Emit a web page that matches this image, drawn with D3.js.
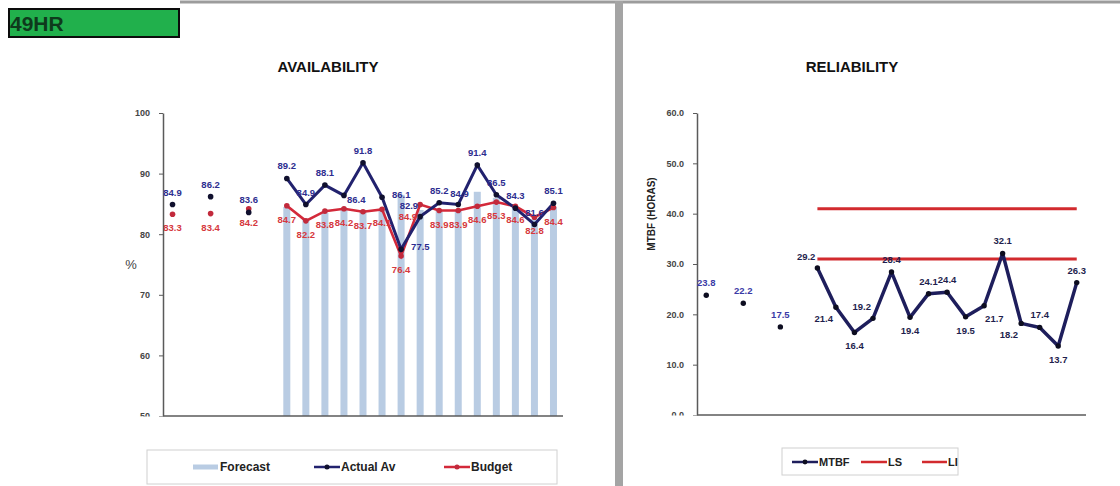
<!DOCTYPE html>
<html><head><meta charset="utf-8">
<script src="https://cdn.jsdelivr.net/npm/d3@7"></script>
<style>
html,body{margin:0;padding:0;background:#fff;}
svg{display:block;font-family:"Liberation Sans",Arial,sans-serif;}
</style></head><body>
<svg id="c" width="1120" height="486"></svg>
<script>
// Period slots: three yearly figures (each followed by a spacer slot), then 15 monthly figures
const periods = ["Y1","s1","Y2","s2","Y3","s3",
  "M01","M02","M03","M04","M05","M06","M07","M08","M09","M10","M11","M12","M13","M14","M15"];

// Availability (%)
const forecast = [null,null,null,null,null,null,
  84.5,82.5,83.5,84.0,84.0,84.0,86.5,84.0,84.0,84.0,87.0,86.0,84.5,82.5,84.5];
const actualAv = [84.9,null,86.2,null,83.6,null,
  89.2,84.9,88.1,86.4,91.8,86.1,77.5,82.9,85.2,84.9,91.4,86.5,84.3,81.6,85.1];
const budget = [83.3,null,83.4,null,84.2,null,
  84.7,82.2,83.8,84.2,83.7,84.1,76.4,84.9,83.9,83.9,84.6,85.3,84.6,82.8,84.4];
const availTicks = [50,60,70,80,90,100];

// Reliability: MTBF (hours) with upper (LS) and lower (LI) limits
const mtbf = [23.8,null,22.2,null,17.5,null,
  29.2,21.4,16.4,19.2,28.4,19.4,24.1,24.4,19.5,21.7,32.1,18.2,17.4,13.7,26.3];
const ls = [null,null,null,null,null,null,
  41,41,41,41,41,41,41,41,41,41,41,41,41,41,41];
const li = [null,null,null,null,null,null,
  31,31,31,31,31,31,31,31,31,31,31,31,31,31,31];
const mtbfTicks = [0,10,20,30,40,50,60];

// Where each data label sits relative to its point
const actualSide = ["t","","t","","t","","t","t","t","r","t","rr","rr","tl","t","tr","t","t","t","t","t"];
const budgetSide = ["b","","b","","b","","b","b","b","b","b","b","b","bl","b","b","b","b","b","b","b"];
const mtbfSide   = ["t","","t","","t","","tl","bl","b","tl","t","b","t","t","b","br","t","bl","t","b","t"];

const labelOffset = {
  t:  {dx:0,   dy:-9, a:"middle"},
  b:  {dx:0,   dy:17, a:"middle"},
  r:  {dx:3,   dy:8,  a:"start"},
  rr: {dx:10,  dy:1,  a:"start"},
  tl: {dx:-2,  dy:-8, a:"end"},
  tr: {dx:-8,  dy:-8, a:"start"},
  bl: {dx:-3,  dy:15, a:"end"},
  br: {dx:1,   dy:16, a:"start"}
};

const svg = d3.select("#c");

// page frame: top rule and the divider between the two charts
svg.append("line").attr("x1",180).attr("x2",1120).attr("y1",2).attr("y2",2)
  .attr("stroke","#9c9c9c").attr("stroke-width",3);
svg.append("rect").attr("x",615).attr("y",1).attr("width",8).attr("height",485).attr("fill","#a4a4a4");

// equipment tag
svg.append("rect").attr("x",9).attr("y",9).attr("width",170).attr("height",28)
  .attr("fill","#21b04c").attr("stroke","#0c0c0c").attr("stroke-width",2);
svg.append("text").attr("x",10).attr("y",31).text("49HR")
  .attr("font-size",21).attr("font-weight","bold").attr("fill","#0e3a1c");

function centerOf(scale, i){ return scale(periods[i]) + scale.bandwidth()/2; }

function drawLabels(g, values, sides, xs, ys, color, fmt){
  g.selectAll(null).data(values.map((v,i)=>({v,i})).filter(d=>d.v!=null))
    .join("text")
    .attr("x", d=>centerOf(xs,d.i) + labelOffset[sides[d.i]].dx)
    .attr("y", d=>ys(d.v) + labelOffset[sides[d.i]].dy)
    .attr("text-anchor", d=>labelOffset[sides[d.i]].a)
    .attr("font-size",9.5).attr("font-weight","bold")
    .attr("fill", typeof color === "function" ? color : ()=>color)
    .text(d=>fmt(d.v));
}

function styleAxis(g){
  g.select(".domain").attr("stroke","#5a5a5a").attr("stroke-width",1.5);
  g.selectAll(".tick line").attr("stroke","#5a5a5a").attr("stroke-width",1);
  g.selectAll(".tick text").attr("fill","#454545").attr("font-size",9).attr("font-weight","bold")
    .attr("font-family","Liberation Sans, Arial, sans-serif");
}

/* ---------------- AVAILABILITY ---------------- */
{
  const xA = d3.scaleBand().domain(periods).range([163,563]);
  const yA = d3.scaleLinear().domain([50,100]).range([416,113]);
  const g = svg.append("g");

  g.append("text").attr("x",328).attr("y",72).attr("text-anchor","middle")
    .attr("font-size",15).attr("font-weight","bold").attr("fill","#111").text("AVAILABILITY");

  // forecast bars
  g.selectAll(null).data(forecast.map((v,i)=>({v,i})).filter(d=>d.v!=null))
    .join("rect")
    .attr("x", d=>centerOf(xA,d.i)-3.5).attr("width",7)
    .attr("y", d=>yA(d.v)).attr("height", d=>yA(50)-yA(d.v))
    .attr("fill","#b9cce3");

  // axes (bottom tick label is cut off at the plot floor); clip box is in the axis group's local space
  svg.append("clipPath").attr("id","clipA").append("rect").attr("x",-70).attr("y",100).attr("width",75).attr("height",316.5);
  const ay = g.append("g").attr("transform","translate(163,0)")
    .call(d3.axisLeft(yA).tickValues(availTicks).tickSize(4).tickSizeOuter(0).tickPadding(9).tickFormat(d3.format("d")));
  styleAxis(ay);
  ay.attr("clip-path","url(#clipA)");
  g.append("line").attr("x1",163).attr("x2",563).attr("y1",yA(50)).attr("y2",yA(50))
    .attr("stroke","#5a5a5a").attr("stroke-width",1.5);

  g.append("text").attr("x",131).attr("y",269).attr("text-anchor","middle")
    .attr("font-size",13).attr("fill","#444").text("%");

  const line = d3.line().defined(d=>d.v!=null).x(d=>centerOf(xA,d.i)).y(d=>yA(d.v));
  const bud = budget.map((v,i)=>({v,i}));
  const act = actualAv.map((v,i)=>({v,i}));

  g.append("path").datum(bud).attr("d",line).attr("fill","none")
    .attr("stroke","#d3293a").attr("stroke-width",2.6);
  g.append("path").datum(act).attr("d",line).attr("fill","none")
    .attr("stroke","#22226e").attr("stroke-width",3);

  g.selectAll(null).data(bud.filter(d=>d.v!=null)).join("circle")
    .attr("cx",d=>centerOf(xA,d.i)).attr("cy",d=>yA(d.v)).attr("r",2.8).attr("fill","#c22a3c");
  g.selectAll(null).data(act.filter(d=>d.v!=null)).join("circle")
    .attr("cx",d=>centerOf(xA,d.i)).attr("cy",d=>yA(d.v)).attr("r",2.8).attr("fill","#10102e");

  drawLabels(g, actualAv, actualSide, xA, yA, "#2d2d8f", d3.format(".1f"));
  drawLabels(g, budget, budgetSide, xA, yA, "#d6383d", d3.format(".1f"));

  // legend
  const lg = g.append("g");
  lg.append("rect").attr("x",147).attr("y",450).attr("width",410).attr("height",34)
    .attr("fill","#fff").attr("stroke","#d0d0d0").attr("stroke-width",1);
  const ly = 467;
  lg.append("line").attr("x1",193).attr("x2",218).attr("y1",ly).attr("y2",ly).attr("stroke","#b9cce3").attr("stroke-width",5);
  lg.append("text").attr("x",220).attr("y",ly+4).text("Forecast");
  lg.append("line").attr("x1",314).attr("x2",340).attr("y1",ly).attr("y2",ly).attr("stroke","#22226e").attr("stroke-width",2.5);
  lg.append("circle").attr("cx",327).attr("cy",ly).attr("r",2.5).attr("fill","#10102e");
  lg.append("text").attr("x",341).attr("y",ly+4).text("Actual Av");
  lg.append("line").attr("x1",444).attr("x2",470).attr("y1",ly).attr("y2",ly).attr("stroke","#d3293a").attr("stroke-width",2.5);
  lg.append("circle").attr("cx",457).attr("cy",ly).attr("r",2.5).attr("fill","#c22a3c");
  lg.append("text").attr("x",471).attr("y",ly+4).text("Budget");
  lg.selectAll("text").attr("font-size",12).attr("font-weight","bold").attr("fill","#222");
}

/* ---------------- RELIABILITY ---------------- */
{
  const xR = d3.scaleBand().domain(periods).range([697,1086]);
  const yR = d3.scaleLinear().domain([0,60]).range([415,113]);
  const g = svg.append("g");

  g.append("text").attr("x",852).attr("y",72).attr("text-anchor","middle")
    .attr("font-size",15).attr("font-weight","bold").attr("fill","#111").text("RELIABILITY");

  svg.append("clipPath").attr("id","clipR").append("rect").attr("x",-60).attr("y",100).attr("width",65).attr("height",315.5);
  const ay = g.append("g").attr("transform","translate(697,0)")
    .call(d3.axisLeft(yR).tickValues(mtbfTicks).tickSize(4).tickSizeOuter(0).tickPadding(9).tickFormat(d3.format(".1f")));
  styleAxis(ay);
  ay.attr("clip-path","url(#clipR)");
  g.append("line").attr("x1",697).attr("x2",1086).attr("y1",yR(0)).attr("y2",yR(0))
    .attr("stroke","#5a5a5a").attr("stroke-width",1.5);

  g.append("text").attr("transform","translate(655,214) rotate(-90)").attr("text-anchor","middle")
    .attr("font-size",10).attr("font-weight","bold").attr("fill","#222").text("MTBF (HORAS)");

  const line = d3.line().defined(d=>d.v!=null).x(d=>centerOf(xR,d.i)).y(d=>yR(d.v));
  g.append("path").datum(ls.map((v,i)=>({v,i}))).attr("d",line).attr("fill","none")
    .attr("stroke","#d22a2e").attr("stroke-width",3);
  g.append("path").datum(li.map((v,i)=>({v,i}))).attr("d",line).attr("fill","none")
    .attr("stroke","#d22a2e").attr("stroke-width",3);

  const m = mtbf.map((v,i)=>({v,i}));
  g.append("path").datum(m).attr("d",line).attr("fill","none")
    .attr("stroke","#1e1e5c").attr("stroke-width",3.5).attr("stroke-linejoin","round");
  g.selectAll(null).data(m.filter(d=>d.v!=null)).join("circle")
    .attr("cx",d=>centerOf(xR,d.i)).attr("cy",d=>yR(d.v)).attr("r",2.7).attr("fill","#0d0d20");

  drawLabels(g, mtbf, mtbfSide, xR, yR, d=> d.i < 6 ? "#3a3aa6" : "#1f1f4e", d3.format(".1f"));

  const lg = g.append("g");
  lg.append("rect").attr("x",782).attr("y",448).attr("width",176).attr("height",27)
    .attr("fill","#fff").attr("stroke","#d0d0d0").attr("stroke-width",1);
  const ly = 462;
  lg.append("line").attr("x1",792).attr("x2",818).attr("y1",ly).attr("y2",ly).attr("stroke","#1e1e5c").attr("stroke-width",2.5);
  lg.append("circle").attr("cx",805).attr("cy",ly).attr("r",2.4).attr("fill","#0d0d20");
  lg.append("text").attr("x",819).attr("y",ly+4).text("MTBF");
  lg.append("line").attr("x1",861).attr("x2",887).attr("y1",ly).attr("y2",ly).attr("stroke","#d22a2e").attr("stroke-width",2.5);
  lg.append("text").attr("x",888).attr("y",ly+4).text("LS");
  lg.append("line").attr("x1",922).attr("x2",947).attr("y1",ly).attr("y2",ly).attr("stroke","#d22a2e").attr("stroke-width",2.5);
  lg.append("text").attr("x",948).attr("y",ly+4).text("LI");
  lg.selectAll("text").attr("font-size",11).attr("font-weight","bold").attr("fill","#222");
}
</script>
</body></html>
